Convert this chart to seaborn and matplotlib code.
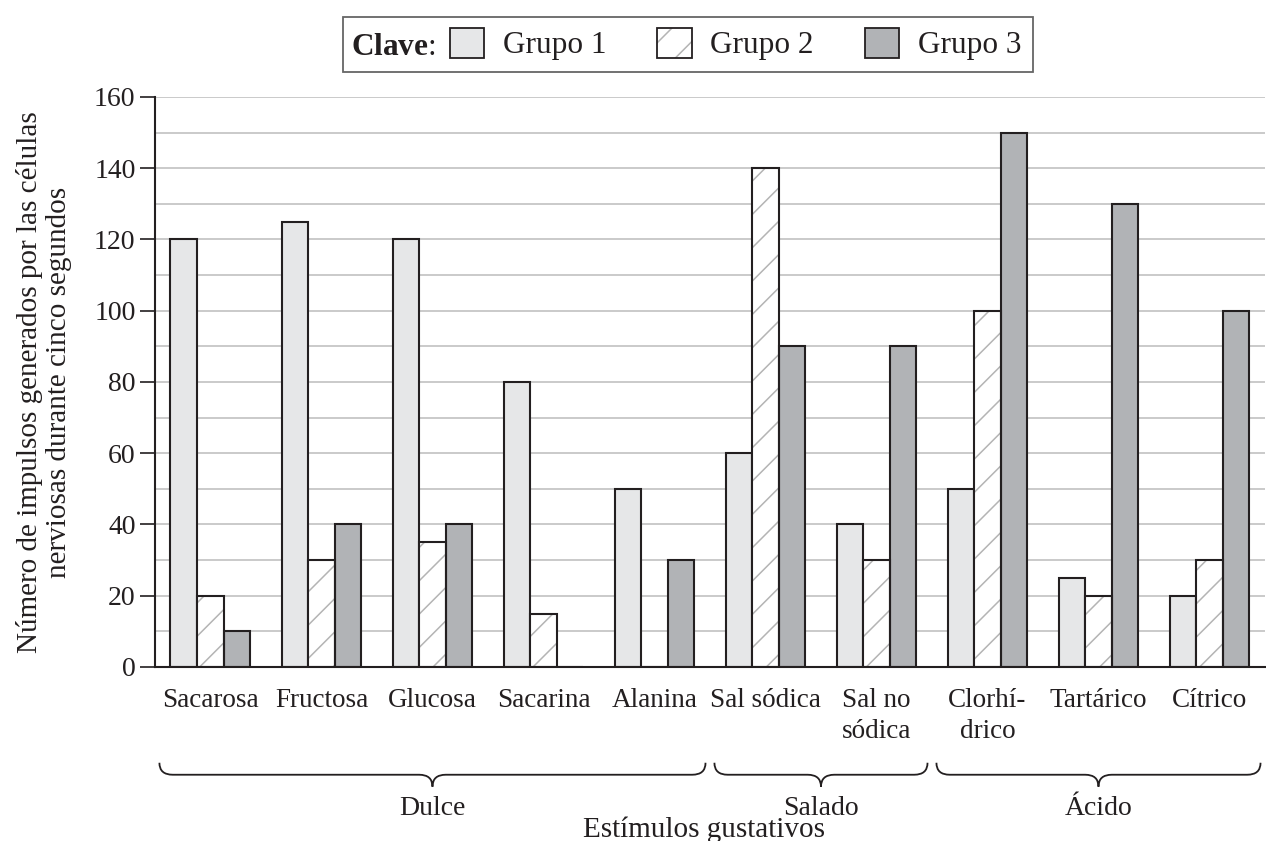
import matplotlib
matplotlib.use('Agg')
import matplotlib.pyplot as plt
import matplotlib.transforms as mtransforms
import seaborn as sns
import pandas as pd
from matplotlib.patches import Patch, Rectangle, PathPatch
from matplotlib.path import Path
from matplotlib.ticker import MultipleLocator

# Datos
estimulos = ['Sacarosa', 'Fructosa', 'Glucosa', 'Sacarina', 'Alanina',
             'Sal sódica', 'Sal no\nsódica', 'Clorhí-\ndrico', 'Tartárico', 'Cítrico']
grupo1 = [120, 125, 120, 80, 50, 60, 40, 50, 25, 20]
grupo2 = [20, 30, 35, 15, 0, 140, 30, 100, 20, 30]
grupo3 = [10, 40, 40, 0, 30, 90, 90, 150, 130, 100]
grupos = ['Grupo 1', 'Grupo 2', 'Grupo 3']
sabores = ['Dulce', 'Salado', 'Ácido']
sabor_rango = [(0, 4), (5, 6), (7, 9)]

colores = ['#e6e7e8', '#ffffff', '#b1b3b6']
borde = '#231f20'
gris_trama = '#b4b4b4'

df = pd.DataFrame({
    'estimulo': estimulos * 3,
    'grupo': [g for g in grupos for _ in estimulos],
    'valor': grupo1 + grupo2 + grupo3,
})

sns.set_theme(style='white')
plt.rcParams['font.family'] = ['Liberation Serif', 'DejaVu Serif']
plt.rcParams['mathtext.fontset'] = 'custom'
plt.rcParams['mathtext.rm'] = 'Liberation Serif'
plt.rcParams['mathtext.bf'] = 'Liberation Serif:bold'
plt.rcParams['hatch.linewidth'] = 1.1
plt.rcParams['hatch.color'] = gris_trama

fig = plt.figure(figsize=(12.66, 8.41), dpi=100)
ax = fig.add_axes([0.1224, 0.2069, 0.8768, 0.6778])

sns.barplot(data=df, x='estimulo', y='valor', hue='grupo', palette=colores,
            width=0.72, gap=0, edgecolor=borde, linewidth=1.5, saturation=1,
            legend=False, ax=ax, zorder=2)

# Grupo 2: trama gris claro con contorno negro
for p in ax.containers[1]:
    p.set_hatch('/')
    p.set_edgecolor(gris_trama)
    p.set_linewidth(0)
    ax.add_patch(Rectangle((p.get_x(), p.get_y()), p.get_width(), p.get_height(),
                           fill=False, edgecolor=borde, lw=1.5, zorder=3))

ax.set_ylim(0, 160)
ax.set_xlim(-0.5, len(estimulos) - 0.5)
ax.yaxis.set_major_locator(MultipleLocator(20))
ax.yaxis.set_minor_locator(MultipleLocator(10))
ax.grid(axis='y', which='both', color='#c6c6c6', lw=1.3)
ax.set_axisbelow(True)

ax.set_xticks(range(len(estimulos)))
ax.set_xticklabels(estimulos, linespacing=1.32)
ax.set_xticks([i - 0.5 for i in range(len(estimulos) + 1)], minor=True)
ax.tick_params(axis='x', which='major', length=0, pad=15, labelsize=19.5, colors=borde)
ax.tick_params(axis='x', which='minor', length=11, width=1.2, direction='out', color=borde)
ax.tick_params(axis='y', which='major', length=11, width=1.2, direction='out',
               labelsize=20, pad=3, colors=borde, left=True)
ax.tick_params(axis='y', which='minor', length=0)

for s in ['top', 'right']:
    ax.spines[s].set_visible(False)
for s in ['left', 'bottom']:
    ax.spines[s].set_linewidth(1.5)
    ax.spines[s].set_color(borde)

ax.set_xlabel('')
ax.set_ylabel('Número de impulsos generados por las células\nnerviosas durante cinco segundos',
              fontsize=21, linespacing=1.15, color=borde)
ax.yaxis.set_label_coords(-0.075, 0.5)

# Llaves bajo los grupos de estímulos
trans = mtransforms.blended_transform_factory(ax.transData, ax.transAxes)


def llave(x0, x1, y, h, r):
    xm = (x0 + x1) / 2
    verts = [(x0, y + h), (x0, y), (x0 + r, y),
             (xm - r, y), (xm, y), (xm, y - h),
             (xm, y), (xm + r, y),
             (x1 - r, y), (x1, y), (x1, y + h)]
    codes = [Path.MOVETO, Path.CURVE3, Path.CURVE3,
             Path.LINETO, Path.CURVE3, Path.CURVE3,
             Path.CURVE3, Path.CURVE3,
             Path.LINETO, Path.CURVE3, Path.CURVE3]
    ax.add_patch(PathPatch(Path(verts, codes), fill=False, edgecolor=borde, lw=1.3,
                           transform=trans, clip_on=False))


for nombre, (i0, i1) in zip(sabores, sabor_rango):
    llave(i0 - 0.46, i1 + 0.46, -0.189, 0.021, 0.12)
    ax.text((i0 + i1) / 2, -0.2480, nombre, transform=trans, ha='center', va='center',
            fontsize=20, color=borde)

ax.text(0.495, -0.286, 'Estímulos gustativos', transform=ax.transAxes, ha='center',
        va='center', fontsize=21, color=borde)

# Leyenda ("Clave")
h1 = Patch(facecolor=colores[0], edgecolor=borde, lw=1.3)
h2a = Patch(facecolor='white', edgecolor=gris_trama, lw=0, hatch='/')
h2b = Patch(facecolor='none', edgecolor=borde, lw=1.3)
h3 = Patch(facecolor=colores[2], edgecolor=borde, lw=1.3)
fig.legend(handles=[h1, (h2a, h2b), h3], labels=grupos, loc='center left',
           bbox_to_anchor=(450 / 1266, 0.9477), ncol=3, frameon=False, fontsize=22.5,
           handlelength=1.1, handleheight=1.12, handletextpad=0.6,
           columnspacing=1.62, borderaxespad=0, borderpad=0, labelcolor=borde)
fig.text(351 / 1266, 0.9440, r'$\mathbf{Clave}$:', ha='left', va='center',
         fontsize=22.5, color=borde)
fig.add_artist(Rectangle((343 / 1266, 769 / 841), 690 / 1266, 55 / 841,
                         transform=fig.transFigure, fill=False, edgecolor='#666666', lw=1.3))

fig.savefig('out.png', dpi=100)
